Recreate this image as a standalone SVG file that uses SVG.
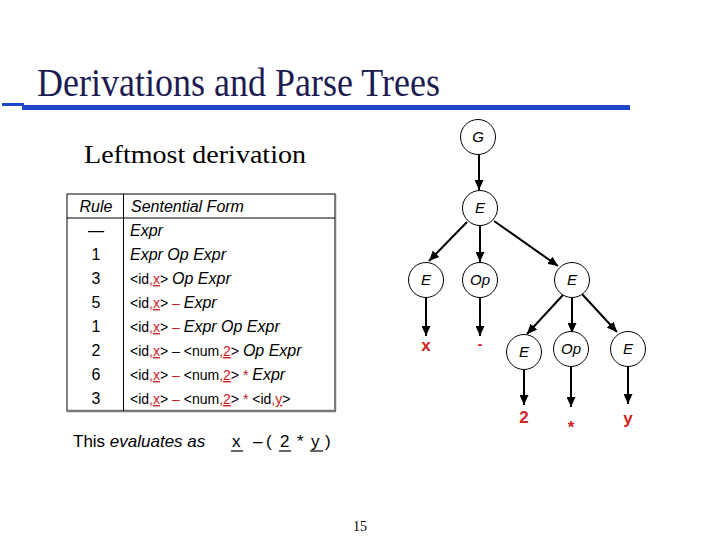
<svg xmlns="http://www.w3.org/2000/svg" width="720" height="540" viewBox="0 0 720 540">
<style>
.serif{font-family:"Liberation Serif","Times New Roman",serif}
.t{font-family:"Liberation Sans",Arial,sans-serif;font-size:14px;fill:#000}
.i{font-style:italic;font-size:16px}
.r{fill:#d42020}
.u{text-decoration:underline}
.num{font-family:"Liberation Sans",Arial,sans-serif;font-size:16px;text-anchor:middle}
.node circle{fill:#fff;stroke:#000;stroke-width:1}
.node text{font-family:"Liberation Sans",Arial,sans-serif;font-style:italic;font-size:15px;text-anchor:middle}
.leaf{font-family:"Liberation Sans",Arial,sans-serif;font-size:17px;font-weight:bold;fill:#d42020;text-anchor:middle}
.edge{stroke:#000;stroke-width:2;fill:none;marker-end:url(#ah)}
.bt{font-family:"Liberation Sans",Arial,sans-serif;font-size:17px;fill:#000}
</style>
<defs>
<marker id="ah" markerUnits="userSpaceOnUse" markerWidth="11" markerHeight="9" refX="10" refY="4.5" orient="auto">
<path d="M0,0 L10,4.5 L0,9 z" fill="#000"/>
</marker>
</defs>
<rect width="720" height="540" fill="#fff"/>
<text class="serif" x="37" y="96" font-size="39" fill="#1c1c52" textLength="403" lengthAdjust="spacingAndGlyphs">Derivations and Parse Trees</text>
<rect x="2" y="103" width="22" height="3" fill="#1f45c8"/>
<rect x="22" y="105" width="608" height="5" fill="#1f45c8"/>
<text class="serif" x="84" y="163" font-size="26" textLength="222" lengthAdjust="spacingAndGlyphs">Leftmost derivation</text>

<g id="table">
<rect x="67" y="194" width="268" height="217" fill="#fff" stroke="#000" stroke-width="1"/>
<line x1="67" y1="411" x2="336" y2="411" stroke="#777" stroke-width="2.5"/>
<line x1="335.5" y1="194" x2="335.5" y2="411" stroke="#777" stroke-width="1.5"/>
<line x1="67" y1="218" x2="335" y2="218" stroke="#000" stroke-width="1"/>
<line x1="123.5" y1="194" x2="123.5" y2="411" stroke="#000" stroke-width="1"/>
<text class="num i" x="96" y="212">Rule</text>
<text class="t i" x="131" y="212">Sentential Form</text>
<text class="num" x="96" y="236">—</text>
<text class="num" x="96" y="260">1</text>
<text class="num" x="96" y="284">3</text>
<text class="num" x="96" y="308">5</text>
<text class="num" x="96" y="332">1</text>
<text class="num" x="96" y="356">2</text>
<text class="num" x="96" y="380">6</text>
<text class="num" x="96" y="404">3</text>
<text class="t" x="130" y="236"><tspan class="i">Expr</tspan></text>
<text class="t" x="130" y="260"><tspan class="i">Expr Op Expr</tspan></text>
<text class="t" x="130" y="284">&lt;id<tspan class="r">,</tspan><tspan class="r u">x</tspan>&gt; <tspan class="i">Op Expr</tspan></text>
<text class="t" x="130" y="308">&lt;id<tspan class="r">,</tspan><tspan class="r u">x</tspan>&gt; <tspan class="r">–</tspan> <tspan class="i">Expr</tspan></text>
<text class="t" x="130" y="332">&lt;id<tspan class="r">,</tspan><tspan class="r u">x</tspan>&gt; <tspan class="r">–</tspan> <tspan class="i">Expr Op Expr</tspan></text>
<text class="t" x="130" y="356">&lt;id<tspan class="r">,</tspan><tspan class="r u">x</tspan>&gt; – &lt;num<tspan class="r">,</tspan><tspan class="r u">2</tspan>&gt; <tspan class="i">Op Expr</tspan></text>
<text class="t" x="130" y="380">&lt;id<tspan class="r">,</tspan><tspan class="r u">x</tspan>&gt; <tspan class="r">–</tspan> &lt;num<tspan class="r">,</tspan><tspan class="r u">2</tspan>&gt; <tspan class="r">*</tspan> <tspan class="i">Expr</tspan></text>
<text class="t" x="130" y="404">&lt;id<tspan class="r">,</tspan><tspan class="r u">x</tspan>&gt; <tspan class="r">–</tspan> &lt;num<tspan class="r">,</tspan><tspan class="r u">2</tspan>&gt; <tspan class="r">*</tspan> &lt;id<tspan class="r">,</tspan><tspan class="r u">y</tspan>&gt;</text>
</g>

<g id="connectors">
<line class="edge" x1="479" y1="155" x2="479" y2="190"/>
<line class="edge" x1="467" y1="222" x2="429" y2="261"/>
<line class="edge" x1="480" y1="226" x2="480" y2="262"/>
<line class="edge" x1="494" y1="221" x2="558" y2="266"/>
<line class="edge" x1="426" y1="298" x2="426" y2="336"/>
<line class="edge" x1="480" y1="298" x2="480" y2="336"/>
<line class="edge" x1="563" y1="295" x2="527" y2="334"/>
<line class="edge" x1="572" y1="298" x2="572" y2="333"/>
<line class="edge" x1="582" y1="294" x2="617" y2="332"/>
<line class="edge" x1="524" y1="370" x2="524" y2="405"/>
<line class="edge" x1="571" y1="367" x2="571" y2="407"/>
<line class="edge" x1="628" y1="367" x2="628" y2="404"/>
</g>

<g id="nG" class="node"><circle cx="478" cy="137" r="17.5"/><text x="478" y="142">G</text></g>
<g id="nE" class="node"><circle cx="480" cy="208" r="17.5"/><text x="480" y="213">E</text></g>
<g id="nE1" class="node"><circle cx="426" cy="280" r="17.5"/><text x="426" y="285">E</text></g>
<g id="nOp" class="node"><circle cx="480" cy="280" r="17.5"/><text x="480" y="285">Op</text></g>
<g id="nE2" class="node"><circle cx="572" cy="280" r="17.5"/><text x="572" y="285">E</text></g>
<g id="nE3" class="node"><circle cx="524" cy="352" r="17.5"/><text x="524" y="357">E</text></g>
<g id="nOp2" class="node"><circle cx="571" cy="349" r="17.5"/><text x="571" y="354">Op</text></g>
<g id="nE4" class="node"><circle cx="628" cy="349" r="17.5"/><text x="628" y="354">E</text></g>
<g id="lx"><text class="leaf" x="426" y="351">x</text></g>
<g id="lminus"><text class="leaf" x="480" y="349" style="font-size:15px">-</text></g>
<g id="l2"><text class="leaf" x="524" y="423">2</text></g>
<g id="lstar"><text class="leaf" x="571" y="433">*</text></g>
<g id="ly"><text class="leaf" x="628" y="424">y</text></g>

<text class="bt" x="73" y="447">This <tspan font-style="italic">evaluates as</tspan></text>
<text class="bt" y="447"><tspan x="232">x</tspan><tspan x="253">–</tspan><tspan x="266">(</tspan><tspan x="280">2</tspan><tspan x="297">*</tspan><tspan x="311">y</tspan><tspan x="325">)</tspan></text>
<g stroke="#000" stroke-width="1.2">
<line x1="231" y1="451" x2="243" y2="451"/>
<line x1="279" y1="451" x2="291" y2="451"/>
<line x1="310" y1="451" x2="323" y2="451"/>
</g>
<text class="serif" x="360" y="531" font-size="14" text-anchor="middle">15</text>
</svg>
